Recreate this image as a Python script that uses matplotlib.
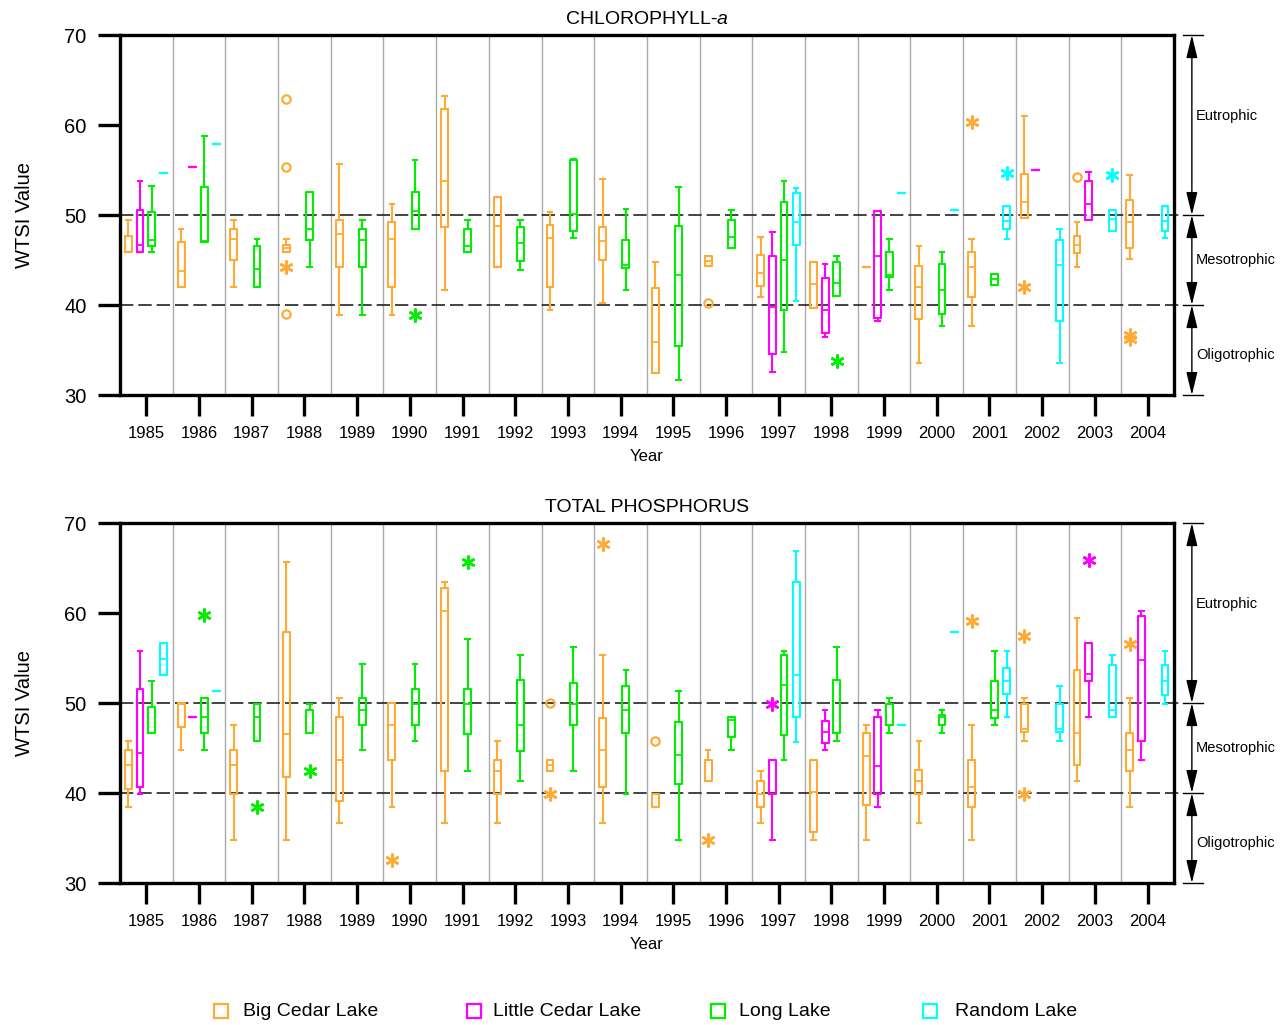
import matplotlib
matplotlib.use("Agg")
import matplotlib.pyplot as plt
from matplotlib.lines import Line2D

plt.rcParams["font.family"] = ["Liberation Sans", "DejaVu Sans"]
plt.rcParams["mathtext.fontset"] = "custom"
plt.rcParams["mathtext.rm"] = "Liberation Sans"
plt.rcParams["mathtext.it"] = "Liberation Sans:italic"

years = list(range(1985, 2005))
lakes = ["Big Cedar Lake", "Little Cedar Lake", "Long Lake", "Random Lake"]
colors = ["#FFAA33", "#FF00FF", "#00EE00", "#00FFFF"]

# (year, whisker low, q1, median, q3, whisker high)
chl_big_cedar = [
    (1985, 45.9, 45.9, 45.9, 47.7, 49.5),
    (1986, 42.0, 42.0, 43.8, 47.0, 48.5),
    (1987, 42.0, 45.0, 47.3, 48.5, 49.5),
    (1988, 45.9, 45.9, 46.3, 46.7, 47.3),
    (1989, 38.9, 44.2, 47.9, 49.5, 55.7),
    (1990, 38.9, 42.0, 47.3, 49.2, 51.2),
    (1991, 41.7, 48.7, 53.8, 61.8, 63.2),
    (1992, 44.2, 44.2, 48.8, 52.0, 52.0),
    (1993, 39.4, 42.0, 47.5, 48.9, 50.3),
    (1994, 40.2, 45.0, 47.1, 48.7, 54.0),
    (1995, 32.4, 32.4, 35.9, 41.9, 44.8),
    (1996, 44.3, 44.3, 44.9, 45.4, 45.4),
    (1997, 40.9, 42.1, 43.6, 45.6, 47.6),
    (1998, 39.7, 39.7, 42.3, 44.8, 44.8),
    (1999, 44.2, 44.2, 44.2, 44.2, 44.2),
    (2000, 33.6, 38.5, 42.0, 44.3, 46.6),
    (2001, 37.7, 40.9, 44.2, 45.9, 47.3),
    (2002, 49.7, 49.7, 51.4, 54.6, 61.0),
    (2003, 44.2, 45.8, 46.7, 47.7, 49.2),
    (2004, 45.1, 46.3, 49.2, 51.7, 54.4),
]
chl_little_cedar = [
    (1985, 45.9, 45.9, 46.7, 50.6, 53.8),
    (1986, 55.3, 55.3, 55.3, 55.3, 55.3),
    (1997, 32.6, 34.6, 39.8, 45.5, 48.1),
    (1998, 36.4, 36.9, 39.4, 43.0, 44.6),
    (1999, 38.2, 38.6, 45.5, 50.4, 50.4),
    (2002, 55.0, 55.0, 55.0, 55.0, 55.0),
    (2003, 49.4, 49.4, 51.2, 53.8, 54.8),
]
chl_long = [
    (1985, 45.9, 46.6, 47.2, 50.3, 53.2),
    (1986, 47.0, 47.0, 47.1, 53.1, 58.8),
    (1987, 42.0, 42.0, 44.0, 46.6, 47.3),
    (1988, 44.2, 47.2, 48.5, 52.6, 52.6),
    (1989, 38.9, 44.2, 47.2, 48.5, 49.5),
    (1990, 48.5, 48.5, 50.4, 52.6, 56.1),
    (1991, 45.9, 45.9, 46.6, 48.4, 49.5),
    (1992, 43.9, 44.9, 46.9, 48.7, 49.5),
    (1993, 47.5, 48.2, 50.1, 56.1, 56.2),
    (1994, 41.7, 44.1, 44.4, 47.2, 50.7),
    (1995, 31.7, 35.5, 43.3, 48.8, 53.1),
    (1996, 46.3, 46.3, 47.6, 49.5, 50.6),
    (1997, 34.8, 39.4, 45.0, 51.4, 53.8),
    (1998, 41.0, 41.0, 42.5, 44.8, 45.5),
    (1999, 41.7, 43.1, 43.3, 45.9, 47.3),
    (2000, 37.7, 39.0, 41.7, 44.6, 45.9),
    (2001, 42.2, 42.2, 42.9, 43.4, 43.4),
]
chl_random = [
    (1985, 54.7, 54.7, 54.7, 54.7, 54.7),
    (1986, 57.9, 57.9, 57.9, 57.9, 57.9),
    (1997, 40.4, 46.7, 49.2, 52.4, 53.0),
    (1999, 52.5, 52.5, 52.5, 52.5, 52.5),
    (2000, 50.6, 50.6, 50.6, 50.6, 50.6),
    (2001, 47.3, 48.4, 49.3, 51.0, 51.0),
    (2002, 33.6, 38.2, 44.4, 47.2, 48.4),
    (2003, 48.2, 48.2, 49.6, 50.6, 50.6),
    (2004, 47.5, 48.2, 49.3, 51.0, 51.0),
]
# (year, lake index, value)
chl_circles = [(1988, 0, 62.9), (1988, 0, 55.3), (1988, 0, 39.0),
               (1996, 0, 40.2), (2003, 0, 54.2)]
chl_stars = [(1988, 0, 44.2), (1990, 2, 38.9), (1998, 2, 33.8),
             (2001, 0, 60.3), (2001, 3, 54.7), (2002, 0, 42.0),
             (2003, 3, 54.4), (2004, 0, 36.7), (2004, 0, 36.2)]

tp_big_cedar = [
    (1985, 38.4, 40.5, 43.1, 44.8, 45.8),
    (1986, 44.8, 47.3, 49.9, 50.0, 50.0),
    (1987, 34.8, 39.9, 43.1, 44.8, 47.6),
    (1988, 34.8, 41.8, 46.6, 57.9, 65.7),
    (1989, 36.7, 39.1, 43.7, 48.4, 50.6),
    (1990, 38.4, 43.7, 47.6, 50.0, 50.0),
    (1991, 36.7, 42.5, 60.2, 62.8, 63.5),
    (1992, 36.7, 39.9, 42.5, 43.7, 45.8),
    (1993, 42.5, 42.5, 43.1, 43.7, 43.7),
    (1994, 36.7, 40.7, 44.8, 48.3, 55.3),
    (1995, 38.4, 38.4, 38.4, 39.9, 39.9),
    (1996, 41.3, 41.3, 41.3, 43.7, 44.8),
    (1997, 36.7, 38.4, 39.9, 41.3, 42.5),
    (1998, 34.8, 35.7, 40.1, 43.7, 43.7),
    (1999, 34.8, 38.7, 44.1, 46.7, 47.6),
    (2000, 36.7, 39.9, 41.3, 42.6, 45.8),
    (2001, 34.8, 38.4, 40.7, 43.7, 47.6),
    (2002, 45.8, 46.8, 47.1, 49.9, 50.6),
    (2003, 41.3, 43.1, 46.7, 53.7, 59.5),
    (2004, 38.4, 42.5, 44.8, 46.7, 50.6),
]
tp_little_cedar = [
    (1985, 39.9, 40.7, 44.4, 51.6, 55.8),
    (1986, 48.4, 48.4, 48.4, 48.4, 48.4),
    (1997, 34.8, 39.9, 39.9, 43.7, 43.7),
    (1998, 44.8, 45.6, 46.8, 48.0, 49.2),
    (1999, 38.4, 39.9, 43.0, 48.4, 49.2),
    (2003, 48.4, 52.5, 53.2, 56.7, 56.7),
    (2004, 43.7, 45.8, 54.8, 59.7, 60.2),
]
tp_long = [
    (1985, 46.7, 46.7, 46.7, 49.6, 52.5),
    (1986, 44.8, 46.7, 48.4, 50.6, 50.6),
    (1987, 45.8, 45.8, 48.4, 49.9, 49.9),
    (1988, 46.7, 46.7, 46.7, 49.2, 49.9),
    (1989, 44.8, 47.6, 49.2, 50.6, 54.3),
    (1990, 45.8, 47.6, 49.9, 51.6, 54.3),
    (1991, 42.5, 46.6, 49.9, 51.6, 57.1),
    (1992, 41.3, 44.7, 47.6, 52.6, 55.3),
    (1993, 42.5, 47.6, 49.9, 52.2, 56.2),
    (1994, 39.9, 46.7, 49.2, 51.9, 53.7),
    (1995, 34.8, 41.0, 44.2, 47.9, 51.3),
    (1996, 44.8, 46.2, 48.1, 48.4, 48.4),
    (1997, 43.7, 46.4, 52.0, 55.3, 55.8),
    (1998, 45.8, 46.7, 46.7, 52.6, 56.2),
    (1999, 46.7, 47.6, 47.6, 49.9, 50.6),
    (2000, 46.7, 47.6, 48.4, 48.7, 49.2),
    (2001, 47.6, 48.3, 49.2, 52.4, 55.8),
]
tp_random = [
    (1985, 53.1, 53.1, 54.9, 56.7, 56.7),
    (1986, 51.3, 51.3, 51.3, 51.3, 51.3),
    (1997, 45.7, 48.4, 53.1, 63.4, 66.9),
    (1999, 47.6, 47.6, 47.6, 47.6, 47.6),
    (2000, 57.9, 57.9, 57.9, 57.9, 57.9),
    (2001, 48.4, 51.0, 52.5, 53.9, 55.8),
    (2002, 45.8, 46.8, 47.1, 49.9, 51.9),
    (2003, 48.4, 48.4, 49.2, 54.2, 55.3),
    (2004, 49.9, 50.9, 52.5, 54.2, 55.8),
]
tp_circles = [(1993, 0, 50.0), (1995, 0, 45.8)]
tp_stars = [(1986, 2, 59.8), (1987, 2, 38.4), (1988, 2, 42.5),
            (1990, 0, 32.6), (1991, 2, 65.7), (1993, 0, 39.9),
            (1994, 0, 67.7), (1996, 0, 34.8), (1997, 1, 49.9),
            (2001, 0, 59.1), (2002, 0, 57.5), (2002, 0, 39.9),
            (2003, 1, 65.9), (2004, 0, 56.6)]

zones = ["Eutrophic", "Mesotrophic", "Oligotrophic"]
zone_bounds = [(50, 70), (40, 50), (30, 40)]
zone_label_y = [61, 45, 34.5]

offsets = [-0.34, -0.12, 0.1, 0.33]


def draw_panel(ax, series, circles, stars, title):
    for x in years[:-1]:
        ax.axvline(x + 0.5, color="#aaaaaa", lw=1, zorder=0)
    for v in (50, 40):
        ax.axhline(v, xmax=1.0085, color="#222222", lw=1.2,
                   ls=(0, (8, 3)), clip_on=False, zorder=1)

    for i, rows in enumerate(series):
        c = colors[i]
        stats = [dict(whislo=r[1], q1=r[2], med=r[3], q3=r[4], whishi=r[5],
                      fliers=[]) for r in rows]
        pos = [r[0] + offsets[i] for r in rows]
        ax.bxp(stats, positions=pos, widths=0.13, capwidths=0.09,
               showfliers=False, manage_ticks=False,
               boxprops=dict(color=c, lw=1.5),
               whiskerprops=dict(color=c, lw=1.5),
               capprops=dict(color=c, lw=1.5),
               medianprops=dict(color=c, lw=1.3))

    for yr, k, v in circles:
        ax.plot(yr + offsets[k], v, marker="o", ms=6, mfc="none",
                mec=colors[k], mew=1.6)
    for yr, k, v in stars:
        ax.plot(yr + offsets[k], v, marker=(6, 2, 0), ms=10,
                mec=colors[k], mew=1.8)

    ax.set_xlim(1984.5, 2004.5)
    ax.set_ylim(30, 70)
    ax.set_xticks(years)
    ax.set_xticklabels([str(y) for y in years], fontsize=12)
    ax.set_yticks([30, 40, 50, 60, 70])
    ax.tick_params(axis="y", labelsize=14.5, length=16, width=2.4, pad=8)
    ax.tick_params(axis="x", length=15, width=2.4, pad=7)
    for s in ax.spines.values():
        s.set_linewidth(2.4)
    ax.set_xlabel("Year", fontsize=12, labelpad=6)
    ax.set_ylabel("WTSI Value", fontsize=14.5, labelpad=22)
    ax.set_title(title, fontsize=14, pad=8)

    trans = ax.get_yaxis_transform()
    for v in (30, 40, 50, 70):
        ax.plot([1.0085, 1.0275], [v, v], transform=trans, color="k",
                lw=1, clip_on=False)
    for (lo, hi), name, ly in zip(zone_bounds, zones, zone_label_y):
        ax.annotate("", xy=(1.017, hi), xytext=(1.017, lo), xycoords=trans,
                    textcoords=trans,
                    arrowprops=dict(arrowstyle="<|-|>,head_length=0.7,head_width=0.17",
                                    color="k", lw=1, mutation_scale=20,
                                    shrinkA=0, shrinkB=0))
        ax.text(1.021, ly, name, transform=trans, fontsize=10.5,
                va="center", ha="left")


fig = plt.figure(figsize=(12.83, 10.25), dpi=100)
ax1 = fig.add_axes([0.0935, 0.6146, 0.8215, 0.3512])
ax2 = fig.add_axes([0.0935, 0.1385, 0.8215, 0.3512])

draw_panel(ax1, [chl_big_cedar, chl_little_cedar, chl_long, chl_random],
           chl_circles, chl_stars, "CHLOROPHYLL-$\\mathit{a}$")
draw_panel(ax2, [tp_big_cedar, tp_little_cedar, tp_long, tp_random],
           tp_circles, tp_stars, "TOTAL PHOSPHORUS")

# legend along the bottom
marker_x = [221, 474, 718, 930]
text_x = [243, 493, 739, 955]
ly = 1 - 1011 / 1025
for mx, tx, c, name in zip(marker_x, text_x, colors, lakes):
    fig.add_artist(Line2D([mx / 1283], [ly], marker="s", ms=10, mfc="none",
                          mec=c, mew=1.6, transform=fig.transFigure))
    fig.text(tx / 1283, ly, name, fontsize=14, va="center", ha="left")

fig.savefig("out.png", dpi=100)
